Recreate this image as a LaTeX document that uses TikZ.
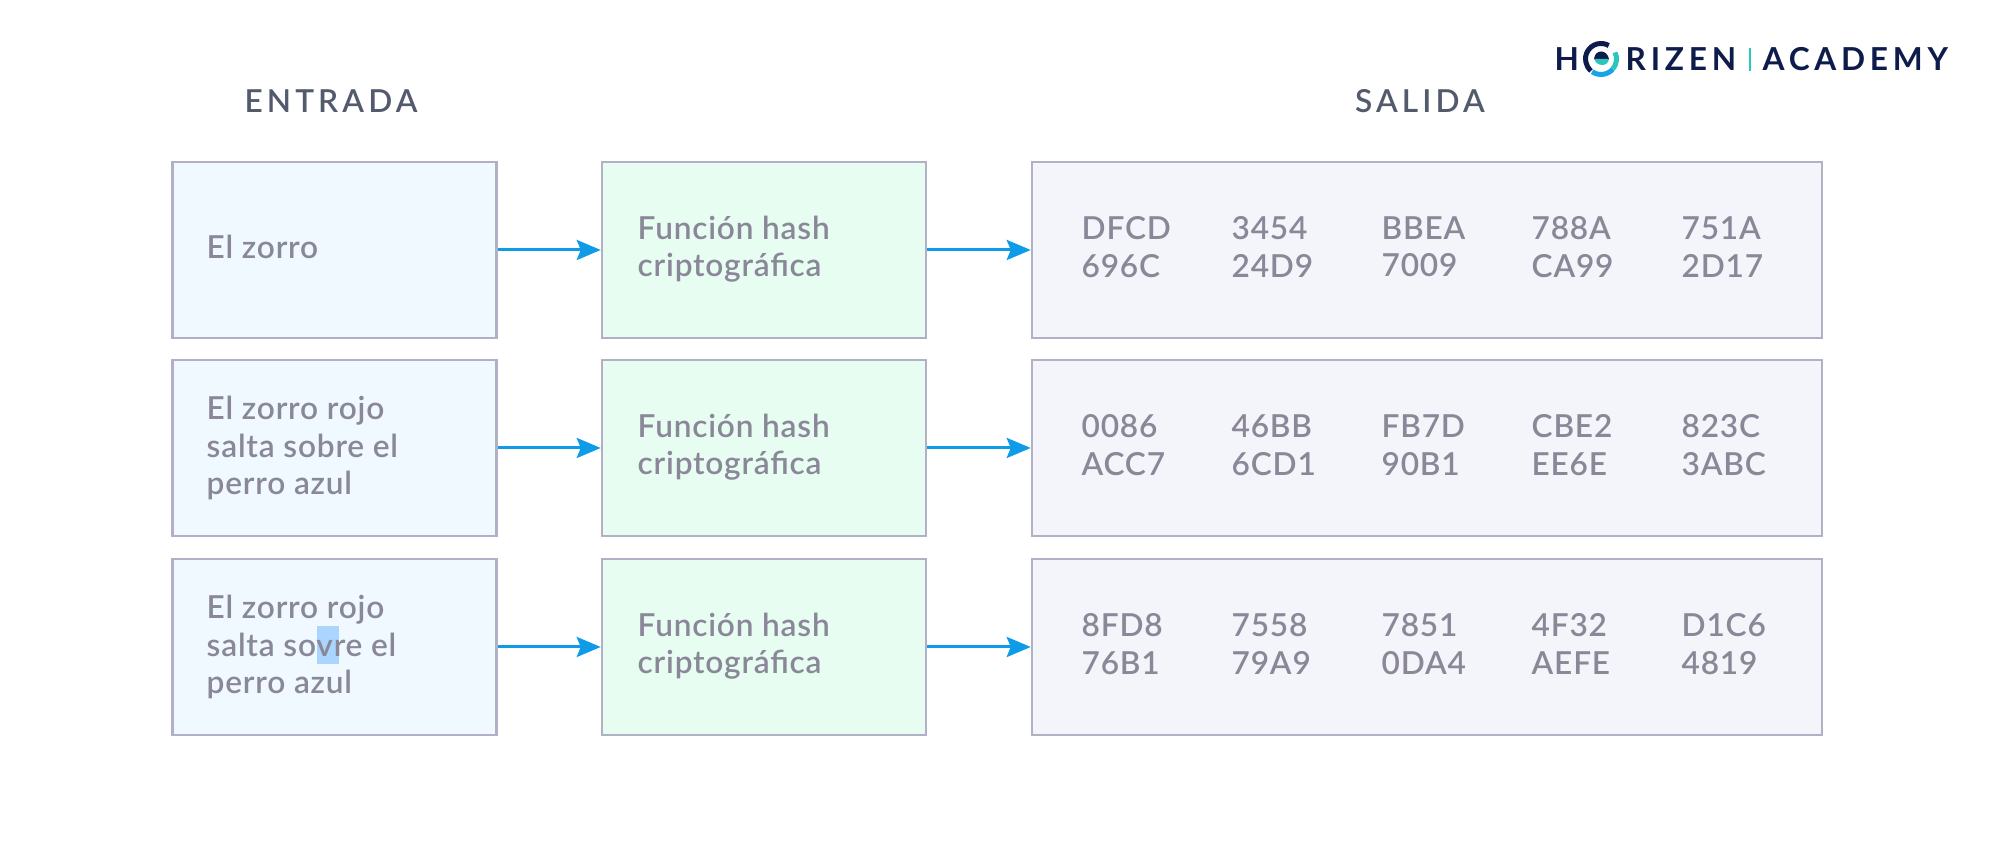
\documentclass[tikz,border=0pt]{standalone}
\usepackage{fontspec}
\setmainfont{Lato Semibold}[LetterSpace=2.5]
\newfontfamily\logofont{Lato}[BoldFont=Lato Bold]
\usetikzlibrary{arrows.meta}
\definecolor{edgegray}{HTML}{B2B0C4}
\definecolor{textgray}{HTML}{8A8898}
\definecolor{headgray}{HTML}{525A6C}
\definecolor{arrowblue}{HTML}{0E9BE8}
\definecolor{logonavy}{HTML}{0E1C4C}
\definecolor{logoblue}{HTML}{18A4E6}
\definecolor{logoteal}{HTML}{2CC5BE}
\definecolor{inputfill}{HTML}{EFF9FF}
\definecolor{hashfill}{HTML}{E8FDF2}
\definecolor{outputfill}{HTML}{F4F5FA}
\definecolor{markblue}{HTML}{A9D5FF}
\tikzset{
	inbox/.style={draw=edgegray,line width=0.025cm,fill=inputfill,minimum width=3.24cm,minimum height=1.76cm},
	hashbox/.style={inbox,fill=hashfill},
	outbox/.style={inbox,fill=outputfill,minimum width=7.9cm},
	body/.style={font=\fontsize{9pt}{10.67pt}\selectfont,text=textgray,align=left,anchor=west,inner sep=0pt},
	head/.style={font=\fontsize{9pt}{10.67pt}\addfontfeature{LetterSpace=13}\selectfont,text=headgray,inner sep=0pt},
	logotext/.style={font=\fontsize{9pt}{10pt}\logofont\bfseries\addfontfeature{LetterSpace=15}\selectfont,text=logonavy,inner sep=0pt,anchor=base west},
	flow/.style={-{Stealth[length=0.24cm,width=0.2cm,inset=0.04cm]},arrowblue,line width=0.03cm}
}
\begin{document}
\begin{tikzpicture}
	\useasboundingbox (0,0) rectangle (20,8.44);
	
	\node[head] (entrada) at (3.31,7.43) {ENTRADA};
	\node[head] (salida) at (14.2,7.43) {SALIDA};
	
	\node[inbox] (in1) at (3.345,5.94) {};
	\node[inbox] (in2) at (3.345,3.96) {};
	\node[inbox] (in3) at (3.345,1.97) {};
	\node[hashbox] (fn1) at (7.64,5.94) {};
	\node[hashbox] (fn2) at (7.64,3.96) {};
	\node[hashbox] (fn3) at (7.64,1.97) {};
	\node[outbox] (out1) at (14.27,5.94) {};
	\node[outbox] (out2) at (14.27,3.96) {};
	\node[outbox] (out3) at (14.27,1.97) {};
	
	\draw[flow] (in1) -- (fn1);
	\draw[flow] (in2) -- (fn2);
	\draw[flow] (in3) -- (fn3);
	\draw[flow] (fn1) -- (out1);
	\draw[flow] (fn2) -- (out2);
	\draw[flow] (fn3) -- (out3);
	
	% marked letter in the last input
	\fill[markblue] (3.17,2.18) rectangle (3.39,1.80);
	
	\node[body] (t1) at (2.06,5.97) {El zorro};
	\node[body] (t2) at (2.06,3.96) {El zorro rojo\\salta sobre el\\perro azul};
	\node[body] (t3) at (2.06,1.97) {El zorro rojo\\salta sovre el\\perro azul};
	\node[body] (f1) at (6.37,5.95) {Función hash\\criptográfica};
	\node[body] (f2) at (6.37,3.97) {Función hash\\criptográfica};
	\node[body] (f3) at (6.37,1.98) {Función hash\\criptográfica};
	
	\node[body] (a1) at (10.81,5.97) {DFCD\\696C};
	\node[body] (a2) at (12.31,5.97) {3454\\24D9};
	\node[body] (a3) at (13.81,5.97) {BBEA\\7009};
	\node[body] (a4) at (15.31,5.97) {788A\\CA99};
	\node[body] (a5) at (16.81,5.97) {751A\\2D17};
	\node[body] (b1) at (10.81,3.99) {0086\\ACC7};
	\node[body] (b2) at (12.31,3.99) {46BB\\6CD1};
	\node[body] (b3) at (13.81,3.99) {FB7D\\90B1};
	\node[body] (b4) at (15.31,3.99) {CBE2\\EE6E};
	\node[body] (b5) at (16.81,3.99) {823C\\3ABC};
	\node[body] (c1) at (10.81,2.00) {8FD8\\76B1};
	\node[body] (c2) at (12.31,2.00) {7558\\79A9};
	\node[body] (c3) at (13.81,2.00) {7851\\0DA4};
	\node[body] (c4) at (15.31,2.00) {4F32\\AEFE};
	\node[body] (c5) at (16.81,2.00) {D1C6\\4819};
	
	% logo
	\node[logotext] (logoh) at (15.54,7.73) {H};
	\node[logotext] (logorizen) at (16.25,7.73) {RIZEN};
	\node[logotext] (logoacademy) at (17.62,7.73) {ACADEMY};
	\draw[logoteal,line width=0.015cm] (17.5,7.73) -- (17.5,7.96);
	\coordinate (logoc) at (16.01,7.85);
	\draw[logonavy,line width=0.05cm] ([shift={(60:0.155)}]logoc) arc (60:230:0.155);
	\draw[logoblue,line width=0.05cm] ([shift={(235:0.155)}]logoc) arc (235:320:0.155);
	\draw[logoteal,line width=0.05cm] ([shift={(320:0.155)}]logoc) arc (320:385:0.155);
	\fill[logonavy] (15.94,7.85) .. controls (15.95,7.95) and (16.07,7.95) .. (16.09,7.85) -- cycle;
	\fill[logoteal] (15.94,7.85) -- (16.09,7.85) .. controls (16.08,7.77) and (15.97,7.77) .. (15.94,7.85) -- cycle;
\end{tikzpicture}
\end{document}
